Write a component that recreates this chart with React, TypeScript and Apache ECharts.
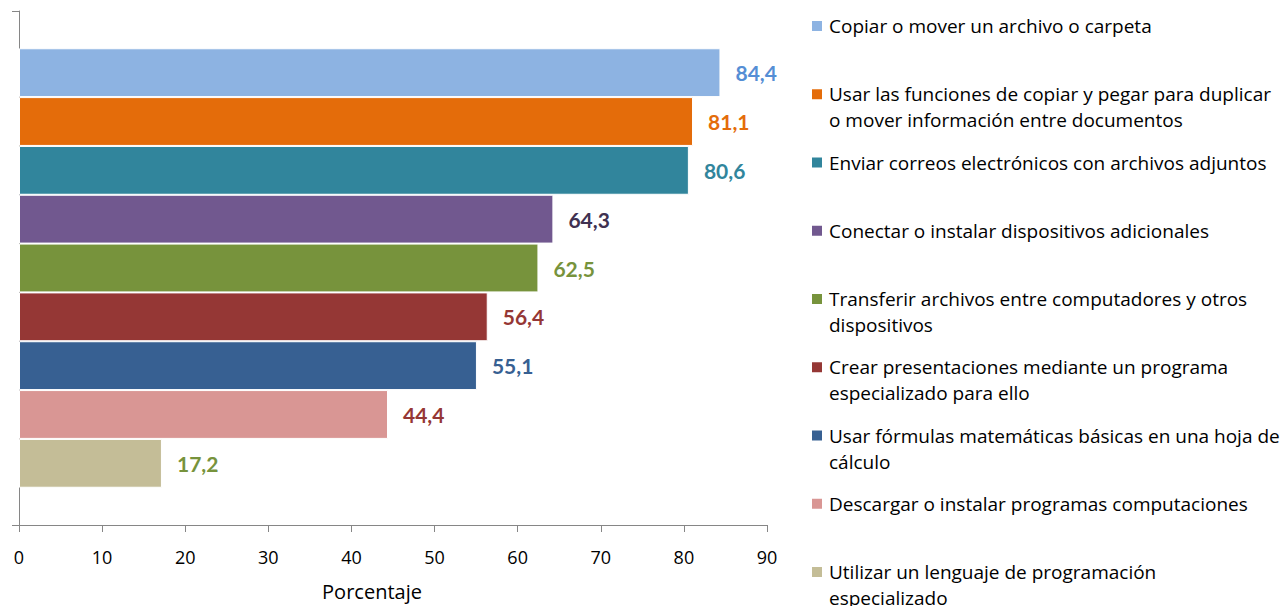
import React, { useEffect, useRef } from "react";
import * as echarts from "echarts";

const categories = [
  "Copiar o mover un archivo o carpeta",
  "Usar las funciones de copiar y pegar para duplicar\no mover información entre documentos",
  "Enviar correos electrónicos con archivos adjuntos",
  "Conectar o instalar dispositivos adicionales",
  "Transferir archivos entre computadores y otros\ndispositivos",
  "Crear presentaciones mediante un programa\nespecializado para ello",
  "Usar fórmulas matemáticas básicas en una hoja de\ncálculo",
  "Descargar o instalar programas computaciones",
  "Utilizar un lenguaje de programación\nespecializado",
];
const values = [84.4, 81.1, 80.6, 64.3, 62.5, 56.4, 55.1, 44.4, 17.2];
const barColors = ["#8DB3E2", "#E46C0A", "#31859C", "#71588F", "#77933C", "#953735", "#376092", "#D99694", "#C4BD97"];
const labelColors = ["#558ED5", "#E46C0A", "#31859C", "#403151", "#77933C", "#953735", "#376092", "#953735", "#77933C"];
const xTicks = [0, 90, 10];
const axisName = "Porcentaje";

export default function App() {
  const ref = useRef<HTMLDivElement>(null);
  useEffect(() => {
    document.body.style.margin = "0";
    const chart = echarts.init(ref.current!, undefined, { renderer: "svg" });
    const font = "Lato";
    const legendFont = "'Open Sans'";
    const legendTop = 26;
    const step = 68.25;
    const graphic: any[] = [];
    categories.forEach((c, i) => {
      const cy = legendTop + i * step;
      graphic.push({
        type: "rect",
        shape: { x: 812, y: cy - 5, width: 10, height: 10 },
        style: { fill: barColors[i] },
      });
      graphic.push({
        type: "text",
        x: 829,
        y: cy - 13,
        style: {
          text: c,
          font: `19px ${legendFont}`,
          fill: "#000",
          lineHeight: 26,
          verticalAlign: "top",
          align: "left",
        },
      });
    });
    chart.setOption({
      animation: false,
      textStyle: { fontFamily: font },
      grid: { left: 19, right: 516, top: 11, bottom: 77, containLabel: false },
      xAxis: {
        type: "value",
        min: xTicks[0],
        max: xTicks[1],
        interval: xTicks[2],
        axisLine: { show: true, lineStyle: { color: "#868686", width: 1 } },
        axisTick: { show: true, length: 7, lineStyle: { color: "#868686" } },
        splitLine: { show: false },
        axisLabel: { fontSize: 18, color: "#000", margin: 23, fontFamily: legendFont },
        name: axisName,
        nameLocation: "middle",
        nameGap: 56,
        nameTextStyle: { fontSize: 20, color: "#000", fontFamily: legendFont, padding: [0, 42, 0, 0] },
      },
      yAxis: {
        type: "category",
        data: [""],
        inverse: true,
        axisLine: { show: true, lineStyle: { color: "#868686", width: 1 } },
        axisTick: { show: true, length: 7, lineStyle: { color: "#868686" } },
        axisLabel: { show: false },
      },
      series: categories.map((c, i) => ({
        type: "bar",
        name: c,
        data: [values[i]],
        barGap: "0%",
        barCategoryGap: "14.5%",
        itemStyle: { color: barColors[i], borderColor: "#fff", borderWidth: 1 },
        label: {
          show: true,
          position: "right",
          distance: 15,
          fontSize: 21,
          fontWeight: "bold",
          fontFamily: font,
          color: labelColors[i],
          formatter: (p: any) => String(p.value).replace(".", ","),
        },
      })),
      graphic,
    });
    return () => chart.dispose();
  }, []);
  return <div ref={ref} style={{ width: 1283, height: 606 }} />;
}
